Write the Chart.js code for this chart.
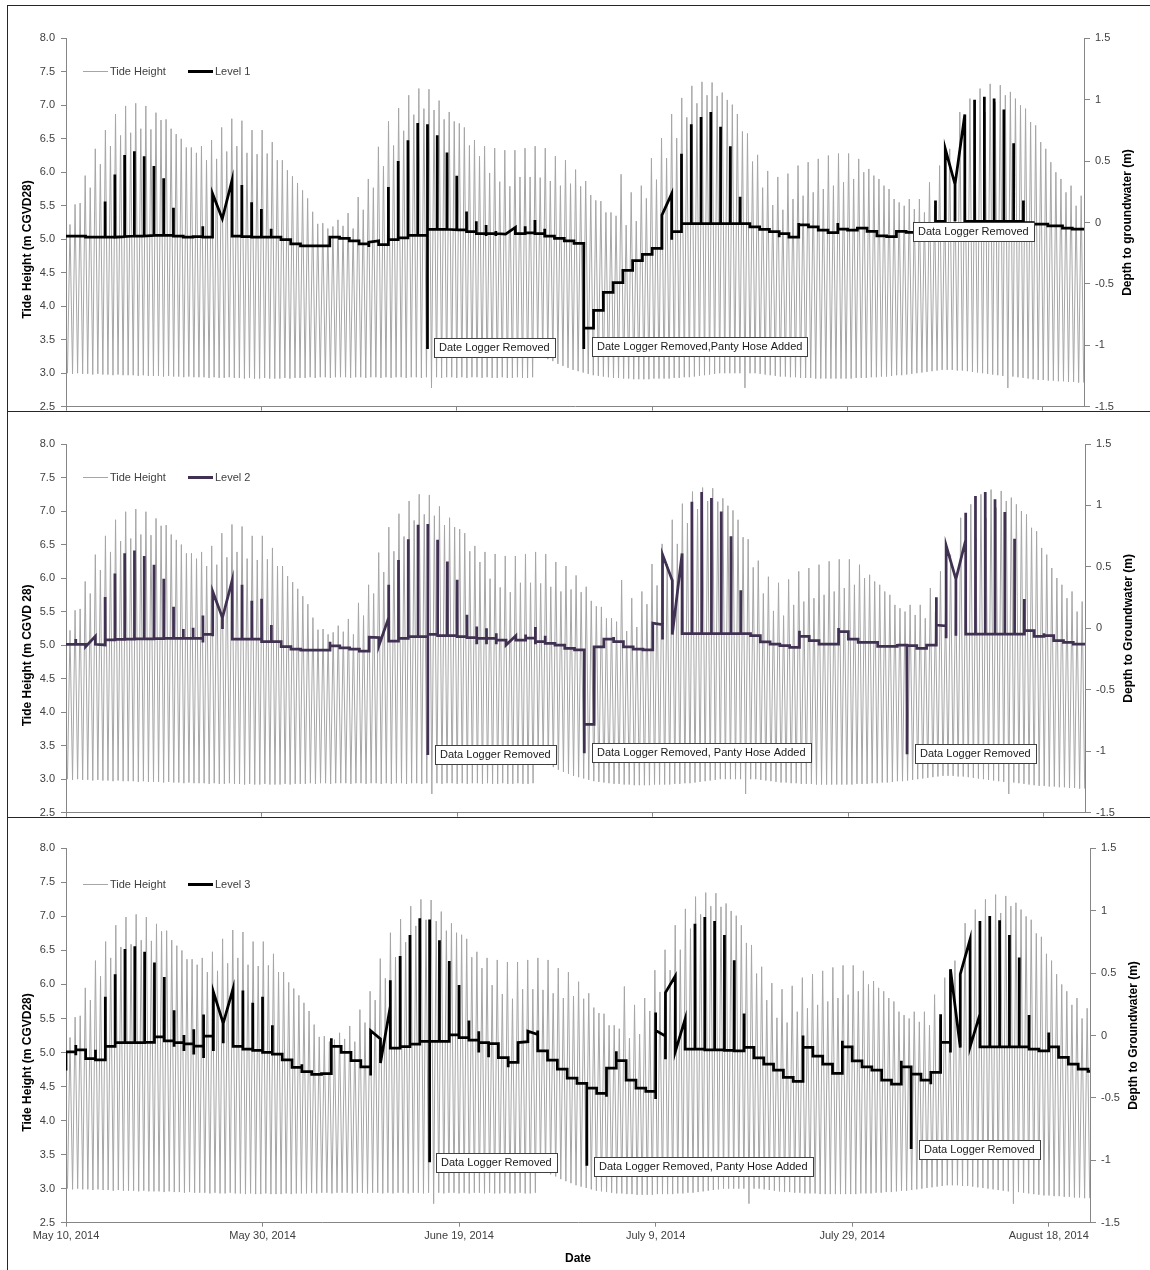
<!DOCTYPE html>
<html>
<head>
<meta charset="utf-8">
<title>Tide height and groundwater level</title>
<script src="https://cdn.jsdelivr.net/npm/chart.js@4.4.1/dist/chart.umd.min.js"></script>
<style>
  html, body { margin: 0; padding: 0; background: #fff; overflow: hidden; }
  canvas { position: absolute; left: 0; }
  .rule { position: absolute; background: #262626; }
</style>
</head>
<body>
<canvas id="c1"></canvas>
<canvas id="c2"></canvas>
<canvas id="c3"></canvas>
<div class="rule" style="left:7px;top:5px;width:1143px;height:1px"></div>
<div class="rule" style="left:7px;top:5px;width:1px;height:1265px"></div>
<div class="rule" style="left:7px;top:411px;width:1143px;height:1px"></div>
<div class="rule" style="left:7px;top:817px;width:1143px;height:1px"></div>
<script>
// ---- tide record (m CGVD28), one value per high / low water ----
var tideStart = 0.41;    // day of the first high water after May 10
var tideStep = 0.5175;   // days between high waters (12.42 h)

var tideHighs = [
  5.22,5.52,5.54,5.95,5.77,6.35,6.12,6.63,6.39,6.87,
  6.55,6.99,6.59,7.03,6.65,6.99,6.64,6.89,6.78,6.79,
  6.65,6.57,6.50,6.37,6.37,6.29,6.39,6.18,6.48,6.20,
  6.67,6.31,6.80,6.39,6.77,6.29,6.63,6.27,6.63,6.28,
  6.45,6.18,6.18,6.03,5.94,5.84,5.73,5.61,5.41,5.23,
  5.24,5.16,5.19,5.29,5.20,5.39,5.16,5.63,5.44,5.90,
  5.77,6.38,6.09,6.76,6.40,6.96,6.62,7.15,6.86,7.25,
  6.95,7.24,6.93,7.07,6.79,6.90,6.76,6.73,6.67,6.40,
  6.48,6.24,6.39,5.99,6.36,5.86,6.33,5.79,6.33,5.93,
  6.36,5.93,6.39,5.92,6.36,5.87,6.24,5.80,6.18,5.83,
  6.04,5.79,5.87,5.66,5.58,5.57,5.40,5.40,5.35,5.97,
  5.21,5.70,5.27,5.80,5.61,6.21,5.89,6.51,6.21,6.87,
  6.51,7.11,6.82,7.29,7.03,7.35,7.15,7.34,7.14,7.19,
  7.08,7.01,6.87,6.61,6.58,6.16,6.26,5.77,6.02,5.51,
  5.93,5.44,5.98,5.60,6.10,5.65,6.15,5.70,6.20,5.75,
  6.25,5.80,6.28,5.85,6.28,5.90,6.20,6.00,6.05,5.95,
  5.90,5.80,5.75,5.60,5.55,5.50,5.60,5.45,5.60,5.40,
  5.85,5.50,6.10,5.60,6.35,5.90,6.90,6.40,7.10,6.60,
  7.25,6.90,7.32,7.05,7.30,7.15,7.20,7.10,7.00,6.95,
  6.75,6.70,6.45,6.35,6.15,6.00,5.90,5.70,5.80,5.50,
  5.65
];

var tideLows = [
  3.00,2.99,3.00,2.99,2.99,2.98,2.99,2.98,2.98,2.97,2.98,2.97,2.97,2.97,2.96,2.97,2.96,2.96,2.96,2.95,
  2.96,2.95,2.95,2.94,2.95,2.94,2.94,2.94,2.93,2.94,2.93,2.93,2.94,2.93,2.93,2.92,2.93,2.92,2.92,2.93,
  2.92,2.92,2.92,2.93,2.92,2.93,
  2.93,2.93,2.94,2.93,2.94,2.94,2.93,2.94,2.94,2.94,2.93,2.94,2.94,2.93,2.94,2.94,2.93,2.94,2.93,2.94,
  2.94,2.93,2.94,2.94,2.93,2.94,
  2.78,
  2.94,2.93,2.94,2.94,2.93,2.94,2.93,2.94,2.94,2.93,2.94,2.93,2.93,2.94,2.93,2.93,2.94,2.93,2.93,2.94,
  3.26,3.24,3.21,3.18,3.14,3.11,3.08,3.05,3.03,3.01,2.99,
  2.97,2.96,2.95,2.94,2.93,2.93,2.92,2.92,2.91,2.91,2.91,2.91,2.92,2.92,2.92,2.92,2.93,2.93,2.94,2.94,
  2.95,2.96,2.97,2.98,2.99,3.00,3.00,
  3.00,3.00,3.00,2.78,3.00,3.00,2.99,2.98,2.97,2.96,
  2.95,2.95,2.94,2.94,2.93,2.93,2.93,2.92,2.92,2.92,2.92,2.92,2.92,2.92,2.92,2.93,2.93,2.93,2.94,2.94,
  2.95,2.95,2.96,2.97,2.97,2.98,2.99,3.00,3.01,3.02,
  3.03,3.04,3.05,3.05,3.05,3.04,3.04,3.03,3.02,3.01,3.00,2.99,2.98,2.97,2.96,
  2.78,
  2.95,2.94,2.93,2.92,2.91,2.90,2.90,2.89,2.89,2.88,2.88,2.87,2.87,2.86,2.86
];

// ---- depth to groundwater (m), [day after May 10, depth] ----
var level1 = [
  [0,-0.11],[2,-0.11],[2,-0.12],[4,-0.12],[4,0.17],[4,-0.12],[5,-0.12],[5,0.39],[5,-0.12],
  [6,-0.115],[6,0.55],[6,-0.115],[7,-0.11],[7,0.58],[7,-0.11],[8,-0.11],[8,0.54],[8,-0.11],
  [9,-0.105],[9,0.46],[9,-0.105],[10,-0.105],[10,0.36],[10,-0.105],[11,-0.105],[11,0.12],[11,-0.11],
  [12,-0.11],[12,-0.12],[13,-0.12],[13,-0.115],[14,-0.115],[14,-0.03],[14,-0.12],[15,-0.12],
  [15,0.235],[16,0.03],[17,0.345],[17,-0.11],[18,-0.11],[18,0.305],[18,-0.115],[19,-0.115],[19,0.165],
  [19,-0.12],[20,-0.12],[20,0.11],[20,-0.12],[21,-0.12],[21,-0.05],[21,-0.12],[22,-0.12],[22,-0.14],
  [23,-0.14],[23,-0.175],[24,-0.175],[24,-0.19],[27,-0.19],[27,-0.12],[28,-0.12],[28,-0.13],[29,-0.13],
  [29,-0.15],[30,-0.15],[30,-0.175],[31,-0.175],[31,-0.2],[31,-0.16],[32,-0.15],[32,-0.18],[33,-0.18],
  [33,0.29],[33,-0.14],[34,-0.14],[34,0.5],[34,-0.125],[35,-0.125],[35,0.67],[35,-0.105],[36,-0.105],
  [36,0.81],[36,-0.105],[37,-0.105],[37,0.8],[37,-1.03],[37,-0.055],[38,-0.055],[38,0.71],[38,-0.055],
  [39,-0.055],[39,0.57],[39,-0.055],[40,-0.06],[40,0.38],[40,-0.06],[41,-0.06],[41,0.09],[41,-0.075],
  [42,-0.075],[42,0.01],[42,-0.09],[43,-0.09],[43,-0.02],[43,-0.11],[43,-0.09],[44,-0.09],[44,-0.07],
  [44,-0.11],[44,-0.09],[45,-0.095],[46,-0.04],[46,-0.09],[47,-0.09],[47,-0.03],[47,-0.085],[48,-0.085],
  [48,0.02],[48,-0.09],[49,-0.09],[49,-0.05],[49,-0.11],[50,-0.11],[50,-0.13],[51,-0.13],[51,-0.15],
  [52,-0.15],[52,-0.17],[53,-0.17],[53,-1.03],[53,-0.86],[54,-0.86],[54,-0.715],[55,-0.715],[55,-0.57],
  [56,-0.57],[56,-0.49],[57,-0.49],[57,-0.39],[58,-0.39],[58,-0.31],[59,-0.31],[59,-0.26],[60,-0.26],
  [60,-0.21],[61,-0.21],[61,0.06],[62,0.235],[62,-0.14],[62,-0.075],[63,-0.075],[63,0.56],[63,-0.01],
  [64,-0.01],[64,0.8],[64,-0.01],[65,-0.01],[65,0.86],[65,-0.01],[66,-0.01],[66,0.9],[66,-0.01],
  [67,-0.01],[67,0.78],[67,-0.01],[68,-0.01],[68,0.62],[68,-0.01],[69,-0.01],[69,0.21],[69,-0.01],
  [70,-0.01],[70,-0.035],[71,-0.035],[71,-0.055],[72,-0.055],[72,-0.075],[73,-0.075],[73,-0.12],
  [73,-0.09],[74,-0.09],[74,-0.12],[75,-0.12],[75,-0.005],[75,-0.02],[76,-0.02],[76,-0.035],[77,-0.035],
  [77,-0.063],[78,-0.063],[78,-0.082],[79,-0.082],[79,-0.005],[79,-0.054],[80,-0.054],[80,-0.063],
  [81,-0.063],[81,-0.046],[82,-0.046],[82,-0.073],[83,-0.073],[83,-0.109],[84,-0.109],[84,-0.115],
  [85,-0.115],[85,-0.073],[86,-0.073],[86,-0.08],[89,-0.08],[89,0.18],[89,0.01],[90,0.01],[90,0.6],
  [91,0.31],[91,0.01],[91,0.31],[92,0.88],[92,0.01],[93,0.01],[93,1.0],[93,0.01],[94,0.01],[94,1.025],
  [94,0.01],[95,0.01],[95,1.01],[95,0.01],[96,0.01],[96,0.92],[96,0.01],[97,0.01],[97,0.645],[97,0.01],
  [98,0.01],[98,0.18],[98,0.0],[99,0.0],[99,-0.014],[100.5,-0.014],[100.5,-0.027],[102,-0.027],
  [102,-0.046],[103,-0.046],[103,-0.054],[104.2,-0.054]
];

var level2 = [
  [0,-0.13],[1,-0.13],[1,-0.087],[1,-0.13],[2,-0.13],[2,-0.15],[3,-0.065],[3,-0.13],[4,-0.135],
  [4,0.256],[4,-0.093],[5,-0.093],[5,0.447],[5,-0.09],[6,-0.09],[6,0.611],[6,-0.088],[7,-0.088],
  [7,0.633],[7,-0.086],[8,-0.086],[8,0.589],[8,-0.085],[9,-0.085],[9,0.518],[9,-0.083],[10,-0.083],
  [10,0.404],[10,-0.082],[11,-0.082],[11,0.175],[11,-0.082],[12,-0.082],[12,-0.005],[12,-0.082],
  [13,-0.082],[13,0.005],[13,-0.082],[14,-0.082],[14,0.104],[14,-0.115],[14,-0.049],[15,-0.049],
  [15,-0.065],[15,0.3],[16,0.087],[16,-0.005],[16,0.087],[17,0.393],[17,-0.087],[18,-0.087],[18,0.355],
  [18,-0.087],[19,-0.087],[19,0.224],[19,-0.087],[20,-0.087],[20,0.24],[20,-0.109],[21,-0.109],
  [21,0.027],[21,-0.109],[22,-0.109],[22,-0.149],[23,-0.149],[23,-0.169],[24,-0.169],[24,-0.177],
  [27,-0.177],[27,-0.11],[27,-0.142],[28,-0.142],[28,-0.158],[29,-0.158],[29,-0.169],[30,-0.169],
  [30,-0.185],[31,-0.185],[31,-0.071],[32,-0.075],[32,-0.14],[33,0.087],[33,0.355],[33,-0.103],
  [34,-0.103],[34,0.556],[34,-0.081],[35,-0.081],[35,0.725],[35,-0.068],[36,-0.068],[36,0.842],
  [36,-0.068],[37,-0.068],[37,0.85],[37,-1.03],[37,-0.049],[38,-0.049],[38,0.72],[38,-0.06],
  [39,-0.06],[39,0.544],[39,-0.06],[40,-0.06],[40,0.395],[40,-0.068],[41,-0.068],[41,0.11],[41,-0.075],
  [42,-0.075],[42,0.015],[42,-0.13],[42,-0.081],[43,-0.081],[43,0.0],[43,-0.13],[43,-0.081],[44,-0.081],
  [44,-0.04],[44,-0.13],[44,-0.095],[45,-0.095],[45,-0.136],[46,-0.06],[46,-0.095],[47,-0.095],
  [47,-0.05],[47,-0.08],[48,-0.08],[48,0.01],[48,-0.13],[48,-0.109],[49,-0.109],[49,-0.06],[49,-0.122],
  [50,-0.122],[50,-0.136],[51,-0.136],[51,-0.163],[52,-0.163],[52,-0.176],[53,-0.176],[53,-1.017],
  [53,-0.781],[54,-0.781],[54,-0.15],[55,-0.15],[55,-0.087],[56,-0.087],[56,-0.07],[56,-0.109],
  [57,-0.109],[57,-0.15],[58,-0.15],[58,-0.169],[59,-0.169],[59,-0.176],[60,-0.176],[60,0.043],
  [61,0.03],[61,-0.09],[61,0.6],[62,0.39],[62,-0.05],[63,0.61],[63,-0.043],[64,-0.043],[64,1.03],
  [64,-0.043],[65,-0.043],[65,1.11],[65,-0.043],[66,-0.043],[66,1.06],[66,-0.043],[67,-0.043],
  [67,0.95],[67,-0.043],[68,-0.043],[68,0.75],[68,-0.043],[69,-0.043],[69,0.31],[69,-0.043],
  [70,-0.043],[70,-0.06],[71,-0.06],[71,-0.11],[72,-0.11],[72,-0.128],[73,-0.128],[73,-0.141],
  [74,-0.141],[74,-0.155],[75,-0.155],[75,-0.019],[75,-0.065],[76,-0.065],[76,-0.1],[77,-0.1],
  [77,-0.128],[79,-0.128],[79,0.003],[79,-0.027],[80,-0.027],[80,-0.087],[81,-0.087],[81,-0.114],
  [83,-0.114],[83,-0.147],[85,-0.147],[85,-0.128],[85,-0.136],[86,-0.136],[86,-1.025],[86,-0.141],
  [87,-0.141],[87,-0.163],[88,-0.163],[88,-0.136],[89,-0.136],[89,0.253],[89,0.027],[90,0.02],
  [90,-0.08],[90,0.674],[91,0.4],[91,-0.06],[91,0.4],[92,0.72],[92,0.94],[92,-0.046],[93,-0.046],
  [93,1.077],[93,-0.046],[94,-0.046],[94,1.11],[94,-0.046],[95,-0.046],[95,1.05],[95,-0.046],
  [96,-0.046],[96,0.946],[96,-0.046],[97,-0.046],[97,0.729],[97,-0.046],[98,-0.046],[98,0.239],
  [98,-0.019],[99,-0.019],[99,-0.065],[100,-0.065],[100,-0.04],[100,-0.06],[101,-0.06],[101,-0.1],
  [102,-0.1],[102,-0.114],[103,-0.114],[103,-0.128],[104.2,-0.128]
];

var level3 = [
  [0,-0.28],[0,-0.131],[1,-0.131],[1,-0.076],[1,-0.158],[1,-0.115],[2,-0.115],[2,-0.185],[3,-0.185],
  [3,-0.115],[3,-0.196],[4,-0.196],[4,0.311],[4,-0.087],[5,-0.087],[5,0.49],[5,-0.057],[6,-0.057],
  [6,0.693],[6,-0.057],[7,-0.057],[7,0.715],[7,-0.057],[8,-0.057],[8,0.671],[8,-0.055],[9,-0.055],
  [9,0.584],[9,-0.011],[10,-0.011],[10,0.469],[10,-0.044],[11,-0.044],[11,0.202],[11,-0.09],[11,-0.057],
  [12,-0.057],[12,0.005],[12,-0.125],[12,-0.068],[13,-0.068],[13,0.05],[13,-0.153],[13,-0.085],
  [14,-0.085],[14,0.169],[14,-0.18],[14,-0.005],[15,-0.005],[15,-0.125],[15,0.349],[16,0.098],
  [16,-0.063],[16,0.098],[17,0.376],[17,-0.087],[18,-0.087],[18,0.36],[18,-0.109],[19,-0.109],
  [19,0.262],[19,-0.12],[20,-0.12],[20,0.311],[20,-0.136],[21,-0.136],[21,0.082],[21,-0.15],[22,-0.15],
  [22,-0.196],[23,-0.196],[23,-0.256],[24,-0.256],[24,-0.23],[24,-0.289],[25,-0.289],[25,-0.311],
  [26,-0.311],[26,-0.305],[27,-0.305],[27,-0.022],[27,-0.087],[28,-0.087],[28,-0.136],[29,-0.136],
  [29,-0.202],[30,-0.202],[30,-0.251],[31,-0.251],[31,-0.32],[31,0.038],[32,-0.027],[32,-0.22],
  [33,0.235],[33,0.443],[33,-0.101],[34,-0.101],[34,0.638],[34,-0.09],[35,-0.09],[35,0.805],[35,-0.069],
  [36,-0.069],[36,0.94],[36,-0.048],[37,-0.048],[37,0.93],[37,-1.016],[37,-0.048],[38,-0.048],
  [38,0.763],[38,-0.048],[39,-0.048],[39,0.597],[39,0.005],[40,0.005],[40,0.405],[40,-0.017],
  [41,-0.017],[41,0.12],[41,-0.038],[42,-0.038],[42,0.035],[42,-0.136],[42,-0.057],[43,-0.057],
  [43,-0.175],[43,-0.065],[44,-0.065],[44,-0.177],[45,-0.177],[45,-0.255],[45,-0.216],[46,-0.216],
  [46,-0.057],[47,-0.05],[47,0.035],[48,0.008],[48,0.04],[48,-0.123],[49,-0.123],[49,-0.197],
  [50,-0.197],[50,-0.269],[51,-0.269],[51,-0.341],[52,-0.341],[52,-0.384],[53,-0.384],[53,-1.043],
  [53,-0.421],[54,-0.421],[54,-0.464],[55,-0.464],[55,-0.49],[55,-0.261],[56,-0.261],[56,-0.127],
  [56,-0.201],[57,-0.201],[57,-0.357],[58,-0.357],[58,-0.421],[59,-0.421],[59,-0.448],[60,-0.448],
  [60,-0.509],[60,0.184],[60,0.04],[61,-0.005],[61,-0.19],[61,0.344],[62,0.477],[62,-0.129],
  [63,0.131],[63,-0.11],[64,-0.11],[64,0.896],[64,-0.11],[65,-0.11],[65,0.949],[65,-0.115],
  [66,-0.115],[66,0.917],[66,-0.115],[67,-0.115],[67,0.805],[67,-0.12],[68,-0.12],[68,0.603],
  [68,-0.123],[69,-0.123],[69,0.176],[69,-0.096],[70,-0.096],[70,-0.18],[71,-0.18],[71,-0.229],
  [72,-0.229],[72,-0.277],[73,-0.277],[73,-0.336],[74,-0.336],[74,-0.368],[75,-0.368],[75,0.0],
  [75,-0.096],[76,-0.096],[76,-0.165],[77,-0.165],[77,-0.229],[78,-0.229],[78,-0.304],[79,-0.304],
  [79,-0.043],[79,-0.091],[80,-0.091],[80,-0.203],[81,-0.203],[81,-0.251],[82,-0.251],[82,-0.277],
  [83,-0.277],[83,-0.357],[84,-0.357],[84,-0.389],[85,-0.389],[85,-0.203],[85,-0.251],[86,-0.251],
  [86,-0.909],[86,-0.309],[87,-0.309],[87,-0.357],[88,-0.357],[88,-0.39],[88,-0.296],[89,-0.296],
  [89,0.171],[89,-0.056],[90,-0.056],[90,-0.136],[90,0.531],[91,-0.096],[91,0.491],[92,0.771],
  [92,-0.091],[93,0.171],[93,0.917],[93,-0.091],[94,-0.091],[94,0.957],[94,-0.091],[95,-0.091],
  [95,0.923],[95,-0.091],[96,-0.091],[96,0.805],[96,-0.091],[97,-0.091],[97,0.624],[97,-0.091],
  [98,-0.091],[98,0.165],[98,-0.109],[99,-0.109],[99,-0.123],[100,-0.123],[100,0.024],[100,-0.091],
  [101,-0.091],[101,-0.176],[102,-0.176],[102,-0.229],[103,-0.229],[103,-0.269],[104,-0.269],
  [104,-0.288],[104.2,-0.288]
];

// field notes: [day, depth, text]
var notes1 = [[37.7,-1.014,'Date Logger Removed'],[53.8,-1.006,'Date Logger Removed,Panty Hose Added'],[86.7,-0.069,'Data Logger Removed']];
var notes2 = [[37.7,-1.026,'Data Logger Removed'],[53.8,-1.01,'Data Logger Removed, Panty Hose Added'],[86.8,-1.018,'Data Logger Removed']];
var notes3 = [[37.7,-1.01,'Data Logger Removed'],[53.7,-1.042,'Data Logger Removed, Panty Hose Added'],[86.8,-0.906,'Data Logger Removed']];

var months = ['January','February','March','April','May','June','July','August','September','October','November','December'];
var FONT = '"Liberation Sans", Arial, sans-serif';
var AXIS = '#868686';
var TEXT = '#404040';
var TIDE_COLOR = '#a6a6a6';

Chart.defaults.font.family = FONT;
Chart.defaults.font.size = 11;
Chart.defaults.color = TEXT;

function tideSeries() {
  var pts = [];
  for (var k = 0; k < tideHighs.length; k++) {
    var t = tideStart + k * tideStep;
    if (k < tideLows.length) pts.push({x: t - tideStep / 2, y: tideLows[k]});
    pts.push({x: t, y: tideHighs[k]});
  }
  var n = tideHighs.length;
  if (tideLows.length > n) pts.push({x: tideStart + n * tideStep - tideStep / 2, y: tideLows[n]});
  return pts;
}

function dateLabel(v) {
  var d = new Date(2014, 4, 10 + v);
  return months[d.getMonth()] + ' ' + d.getDate() + ', ' + d.getFullYear();
}

// keep the plot box where it is: no extra room for the end tick labels
function fixWidth(w) {
  return function(s) {
    s.width = w;
    s.paddingTop = 0; s.paddingBottom = 0;
  };
}

// legend, axis titles and boxed notes
var deco = {
  id: 'deco',
  afterDatasetsDraw: function(chart, args, o) {
    var ctx = chart.ctx, a = chart.chartArea, sx = chart.scales.x, sy = chart.scales.y1;
    ctx.save();

    // legend
    var ly = Math.round(a.top + o.legendDy) + 0.5;
    ctx.font = '11px ' + FONT;
    ctx.textBaseline = 'middle';
    ctx.strokeStyle = TIDE_COLOR; ctx.lineWidth = 1;
    ctx.beginPath(); ctx.moveTo(a.left + 17, ly); ctx.lineTo(a.left + 42, ly); ctx.stroke();
    ctx.fillStyle = TEXT;
    ctx.fillText('Tide Height', a.left + 44, ly);
    ctx.strokeStyle = o.levelColor; ctx.lineWidth = 3;
    ctx.beginPath(); ctx.moveTo(a.left + 122, ly); ctx.lineTo(a.left + 147, ly); ctx.stroke();
    ctx.fillText(o.levelLabel, a.left + 149, ly);

    // axis titles, both read bottom to top
    ctx.font = 'bold 12px ' + FONT;
    ctx.fillStyle = '#000';
    ctx.textAlign = 'center';
    ctx.save();
    ctx.translate(28, (a.top + a.bottom) / 2 + 27);
    ctx.rotate(-Math.PI / 2);
    ctx.fillText(o.leftTitle, 0, 0);
    ctx.restore();
    ctx.save();
    ctx.translate(a.right + 44, (a.top + a.bottom) / 2);
    ctx.rotate(-Math.PI / 2);
    ctx.fillText(o.rightTitle, 0, 0);
    ctx.restore();

    // boxed notes
    ctx.font = '11px ' + FONT;
    ctx.textAlign = 'left';
    o.notes.forEach(function(n) {
      var x = Math.round(sx.getPixelForValue(n[0]));
      var y = Math.round(sy.getPixelForValue(n[1]));
      var w = Math.round(ctx.measureText(n[2]).width + 10);
      ctx.fillStyle = '#fff';
      ctx.fillRect(x, y - 9, w, 19);
      ctx.strokeStyle = '#404040'; ctx.lineWidth = 1;
      ctx.strokeRect(x + 0.5, y - 9 + 0.5, w, 19);
      ctx.fillStyle = '#1a1a1a';
      ctx.fillText(n[2], x + 5, y + 1);
    });
    ctx.restore();
  }
};

function makePanel(id, top, height, p) {
  var cv = document.getElementById(id);
  cv.width = 1150; cv.height = height;
  cv.style.top = top + 'px';
  return new Chart(cv, {
    type: 'line',
    data: {
      datasets: [
        { label: p.levelLabel, data: p.level.map(function(d) { return {x: d[0], y: d[1]}; }),
          borderColor: p.levelColor, borderWidth: 2.75, pointRadius: 0, yAxisID: 'y1', order: 0 },
        { label: 'Tide Height', data: tideSeries(), borderColor: TIDE_COLOR, borderWidth: 1,
          pointRadius: 0, yAxisID: 'y', order: 1 }
      ]
    },
    options: {
      responsive: false, animation: false, devicePixelRatio: 1, events: [],
      layout: { padding: { top: p.padTop } },
      plugins: {
        legend: { display: false }, tooltip: { enabled: false },
        deco: { levelLabel: p.levelLabel, levelColor: p.levelColor, legendDy: p.legendDy,
                leftTitle: p.leftTitle, rightTitle: p.rightTitle,
                notes: p.notes }
      },
      scales: {
        x: {
          type: 'linear', min: 0, max: 104.2,
          afterFit: function(s) { s.height = p.xHeight; },
          border: { color: AXIS },
          grid: { drawOnChartArea: false, tickLength: 4, color: AXIS },
          ticks: { display: p.dates, stepSize: 20, includeBounds: false, autoSkip: false,
                   maxRotation: 0, padding: 3, callback: dateLabel },
          title: { display: p.dates, text: 'Date', color: '#000',
                   font: { size: 12, weight: 'bold' }, padding: { top: 0, bottom: 4 } }
        },
        y: {
          position: 'left', min: 2.5, max: 8,
          afterFit: fixWidth(66),
          border: { color: AXIS },
          grid: { drawOnChartArea: false, tickLength: 5, color: AXIS },
          ticks: { stepSize: 0.5, padding: 6, callback: function(v) { return v.toFixed(1); } }
        },
        y1: {
          position: 'right', min: -1.5, max: 1.5,
          afterFit: fixWidth(p.rightW),
          border: { color: AXIS },
          grid: { drawOnChartArea: false, tickLength: 6, color: AXIS },
          ticks: { stepSize: 0.5, padding: 5, callback: function(v) { return String(v); } }
        }
      }
    },
    plugins: [deco]
  });
}

makePanel('c1', 0, 411, {
  level: level1, levelLabel: 'Level 1', levelColor: '#000', notes: notes1,
  leftTitle: 'Tide Height (m CGVD28)', rightTitle: 'Depth to groundwater (m)',
  padTop: 38.3, xHeight: 4.3, rightW: 66, legendDy: 32.7, dates: false
});
makePanel('c2', 411, 406, {
  level: level2, levelLabel: 'Level 2', levelColor: '#403152', notes: notes2,
  leftTitle: 'Tide Height (m CGVD 28)', rightTitle: 'Depth to Groundwater (m)',
  padTop: 33, xHeight: 4.3, rightW: 65, legendDy: 33.3, dates: false
});
makePanel('c3', 817, 453, {
  level: level3, levelLabel: 'Level 3', levelColor: '#000', notes: notes3,
  leftTitle: 'Tide Height (m CGVD28)', rightTitle: 'Depth to Groundwater (m)',
  padTop: 31.3, xHeight: 47.3, rightW: 60, legendDy: 36, dates: true
});
</script>
</body>
</html>
